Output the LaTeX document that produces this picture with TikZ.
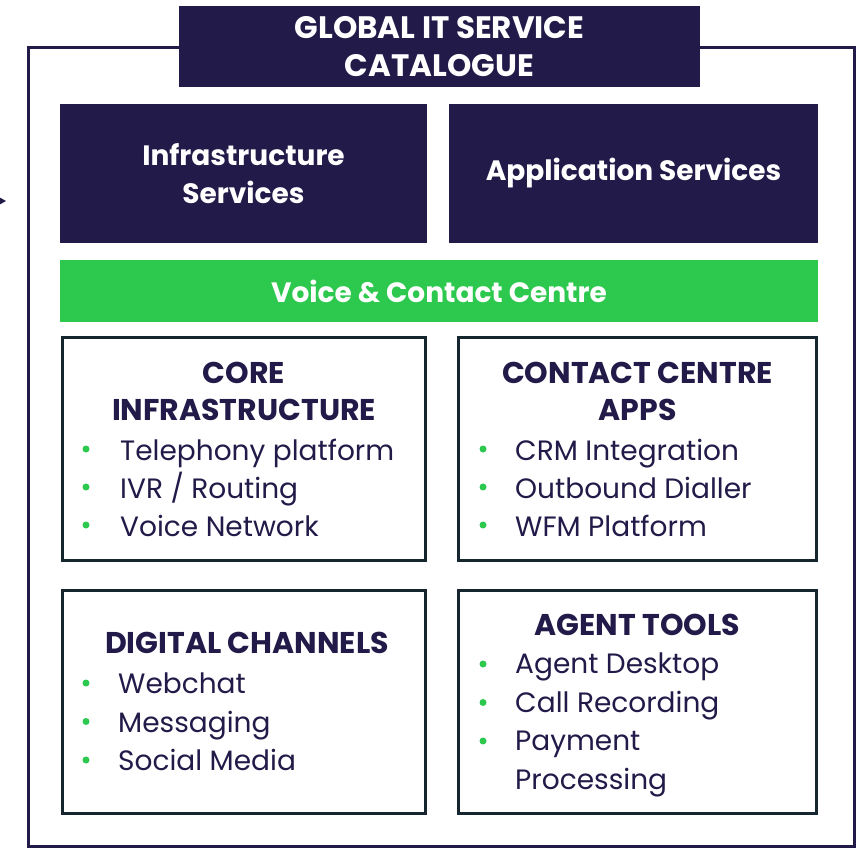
\documentclass[tikz,border=0pt]{standalone}
\usepackage{fontspec}
\setmainfont{Poppins}
\usetikzlibrary{arrows.meta}

\definecolor{navy}{HTML}{221A48}
\definecolor{leaf}{HTML}{2DC94E}
\definecolor{rim}{HTML}{16262E}

\begin{document}
\begin{tikzpicture}[
    x=1pt, y=-1pt,
    banner/.style={fill=navy, text=white, font=\bfseries\fontsize{28}{38}\selectfont, align=center, inner sep=0pt},
    panel/.style={draw=rim, line width=3pt, fill=white, inner sep=0pt},
    head/.style={text=navy, font=\bfseries\fontsize{30}{37}\selectfont, align=center, inner sep=0pt},
    item/.style={text=navy, font=\fontsize{28}{38}\selectfont, anchor=base west, inner sep=0pt},
    dot/.style={circle, fill=leaf, inner sep=0pt, minimum size=7pt}
]
    \useasboundingbox (0,0) rectangle (861,848);

    % outer frame and incoming arrow
    \draw[navy, line width=3pt] (28.5,47.5) rectangle (854,846);
    \coordinate (feed) at (-30,201);
    \coordinate (feedtip) at (6,201);
    \draw[navy, line width=3pt, -{Stealth[length=9pt, width=10pt]}] (feed) -- (feedtip);

    % top banners
    \node[banner, font=\bfseries\fontsize{31}{38}\selectfont, minimum width=521, minimum height=81] (cat) at (439.5,46.5) {GLOBAL IT SERVICE\\CATALOGUE};
    \node[banner, minimum width=367, minimum height=139] (infra) at (243.5,173.5) {Infrastructure\\Services};
    \node[banner, minimum width=369, minimum height=139] (apps) at (633.5,173.5) {Application Services};
    \node[banner, fill=leaf, minimum width=758, minimum height=62] (voice) at (439,291) {Voice \& Contact Centre};

    % panels
    \node[panel, minimum width=363, minimum height=223] (core) at (244,449) {};
    \node[panel, minimum width=358, minimum height=223] (ccapps) at (637.5,449) {};
    \node[panel, minimum width=363, minimum height=223] (digital) at (244,702) {};
    \node[panel, minimum width=358, minimum height=223] (agent) at (637.5,702) {};

    \node[head] (core-h) at (244,391.5) {CORE\\INFRASTRUCTURE};
    \node[head] (ccapps-h) at (637.5,391.5) {CONTACT CENTRE\\APPS};
    \node[head] (digital-h) at (247,643) {DIGITAL CHANNELS};
    \node[head] (agent-h) at (637.5,625) {AGENT TOOLS};

    % bullet lists
    \foreach \txt [count=\i] in {Telephony platform, IVR / Routing, Voice Network} {
        \node[dot] (core-d\i) at (86,411+38*\i) {};
        \node[item] (core-t\i) at (120,422+38*\i) {\txt};
    }
    \foreach \txt [count=\i] in {CRM Integration, Outbound Dialler, WFM Platform} {
        \node[dot] (ccapps-d\i) at (483,411+38*\i) {};
        \node[item] (ccapps-t\i) at (515,422+38*\i) {\txt};
    }
    \foreach \txt [count=\i] in {Webchat, Messaging, Social Media} {
        \node[dot] (digital-d\i) at (86,644.5+38.5*\i) {};
        \node[item] (digital-t\i) at (118,655+38.5*\i) {\txt};
    }
    \foreach \txt [count=\i] in {Agent Desktop, Call Recording, Payment} {
        \node[dot] (agent-d\i) at (483,625.5+38.5*\i) {};
        \node[item] (agent-t\i) at (515,635+38.5*\i) {\txt};
    }
    \node[item] (agent-t4) at (515,789) {Processing};
\end{tikzpicture}
\end{document}
